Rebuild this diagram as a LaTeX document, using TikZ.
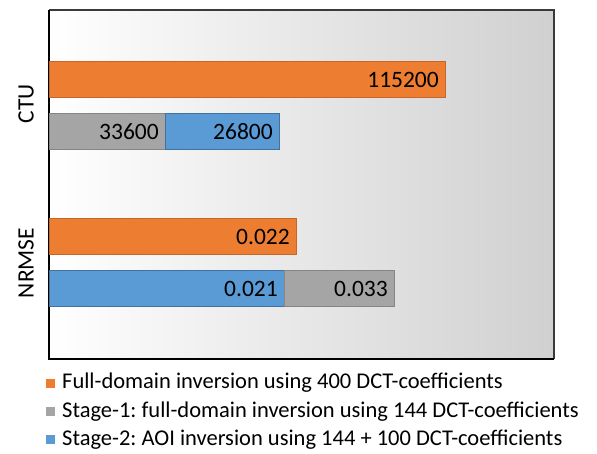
\documentclass[tikz,border=0pt]{standalone}
\usepackage{fontspec}
\setmainfont{Carlito}
\frenchspacing
\definecolor{orgf}{HTML}{ED7D31}
\definecolor{orgd}{HTML}{C8662A}
\definecolor{gryf}{HTML}{A5A5A5}
\definecolor{gryd}{HTML}{858585}
\definecolor{bluf}{HTML}{5B9BD5}
\definecolor{blud}{HTML}{41719C}
\definecolor{shd}{HTML}{D0D0D0}
\definecolor{frm}{HTML}{3A3A3A}
\tikzset{
  barorg/.style={fill=orgf,draw=orgd,line width=1pt},
  bargry/.style={fill=gryf,draw=gryd,line width=1pt},
  barblu/.style={fill=bluf,draw=blud,line width=1pt},
  val/.style={anchor=east,inner sep=0pt,font=\fontsize{23.5}{25}\selectfont},
  axlab/.style={rotate=90,inner sep=0pt,font=\fontsize{23.5}{25}\selectfont},
  legtxt/.style={anchor=west,inner sep=0pt,font=\fontsize{22.5}{24}\selectfont},
}
\begin{document}
\begin{tikzpicture}[x=1pt,y=-1pt]
\useasboundingbox (0,0) rectangle (597,454);
\fill[left color=white,right color=shd] (49,10) rectangle (554,359);
\draw[frm,line width=1.5pt] (49,10) -- (554,10) -- (554,359);
\draw[black,line width=1.5pt] (49,10) -- (49,359) -- (554,359);
% CTU
\draw[barorg] (49,62) rectangle (445,98);
\node[val] (v1) at (439,80) {115200};
\draw[bargry] (49,114) rectangle (165,150);
\node[val] (v2) at (159,132) {33600};
\draw[barblu] (165,114) rectangle (279,150);
\node[val] (v3) at (273,132) {26800};
% NRMSE
\draw[barorg] (49,219) rectangle (296,255);
\node[val] (v4) at (290,237) {0.022};
\draw[barblu] (49,271) rectangle (284,307);
\node[val] (v5) at (278,289) {0.021};
\draw[bargry] (284,271) rectangle (394,307);
\node[val] (v6) at (388,289) {0.033};
% axis labels
\node[axlab] (ctu) at (26,104) {CTU};
\node[axlab] (nrm) at (26,263) {NRMSE};
% legend
\fill[orgf] (46,379) rectangle (55,388);
\node[legtxt] (l1) at (62,383) {Full-domain inversion using 400 DCT-coefficients};
\fill[gryf] (46,407) rectangle (55,416);
\node[legtxt] (l2) at (62,411.5) {Stage-1: full-domain inversion using 144 DCT-coefficients};
\fill[bluf] (46,435) rectangle (55,444);
\node[legtxt] (l3) at (62,440) {Stage-2: AOI inversion using 144 + 100 DCT-coefficients};
\end{tikzpicture}
\end{document}
